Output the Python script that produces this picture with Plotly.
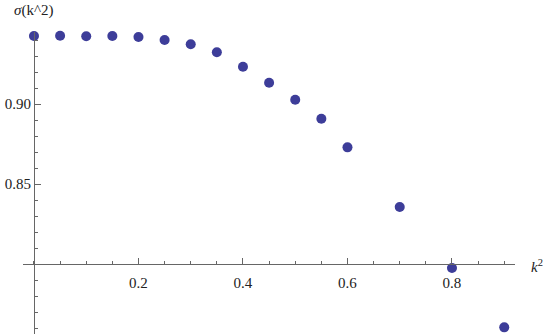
import plotly.graph_objects as go

# sigma(k^2)
k2 = [0.0, 0.05, 0.1, 0.15, 0.2, 0.25, 0.3, 0.35, 0.4, 0.45, 0.5, 0.55, 0.6, 0.7, 0.8, 0.9]
sigma = [0.9425, 0.9427, 0.9423, 0.9425, 0.9419, 0.9400, 0.9373, 0.9323,
         0.9233, 0.9133, 0.9027, 0.8908, 0.8729, 0.8356, 0.7975, 0.7604]

x_ticks = [0.2, 0.4, 0.6, 0.8]
y_ticks = [0.85, 0.90]
y_tick_text = ["0.85", "0.90"]

xr = [-0.021, 0.9206]
yr = [0.75625, 0.945]
axis_col = "#666666"
serif = "Liberation Serif"
txt = dict(family=serif, size=15, color="#222222")

fig = go.Figure()
fig.add_trace(go.Scatter(x=k2, y=sigma, mode="markers",
                         marker=dict(size=10, color="#3d3d99"),
                         cliponaxis=False, hoverinfo="none"))

fig.update_layout(
    width=545, height=334,
    margin=dict(l=23, r=30, t=32, b=0, autoexpand=False),
    paper_bgcolor="white", plot_bgcolor="white",
    showlegend=False,
    font=txt,
    xaxis=dict(range=xr, showgrid=False, zeroline=False, automargin=False,
               showline=True, linecolor=axis_col, linewidth=1,
               anchor="free", position=(0.80 - yr[0]) / (yr[1] - yr[0]),
               tickmode="array", tickvals=x_ticks, tickfont=txt,
               ticklabelstandoff=5,
               ticks="inside", ticklen=6, tickcolor=axis_col,
               minor=dict(ticks="inside", ticklen=3.5, tickcolor=axis_col,
                          tickmode="linear", tick0=0, dtick=0.05)),
    yaxis=dict(range=yr, showgrid=False, zeroline=False, automargin=False,
               showline=True, linecolor=axis_col, linewidth=1,
               anchor="free", position=(0 - xr[0]) / (xr[1] - xr[0]),
               tickmode="array", tickvals=y_ticks, ticktext=y_tick_text,
               tickfont=txt,
               ticks="inside", ticklen=6, tickcolor=axis_col,
               minor=dict(ticks="inside", ticklen=3.5, tickcolor=axis_col,
                          tickmode="linear", tick0=0.8, dtick=0.01)),
    annotations=[
        dict(text="<i>σ</i>(k^2)", x=0, xref="x", y=1, yref="paper",
             yshift=22, showarrow=False, xanchor="center", yanchor="middle",
             font=txt),
        dict(text="<i>k</i><sup>2</sup>", x=1, xref="paper", y=0.80, yref="y",
             xshift=14, yshift=-2, showarrow=False, xanchor="left",
             yanchor="middle", font=txt),
    ],
)

# drop the default 8px body margin so the figure fills the window
fig.write_html("out.html", config={"displayModeBar": False},
               post_script="document.body.style.margin='0px';")
